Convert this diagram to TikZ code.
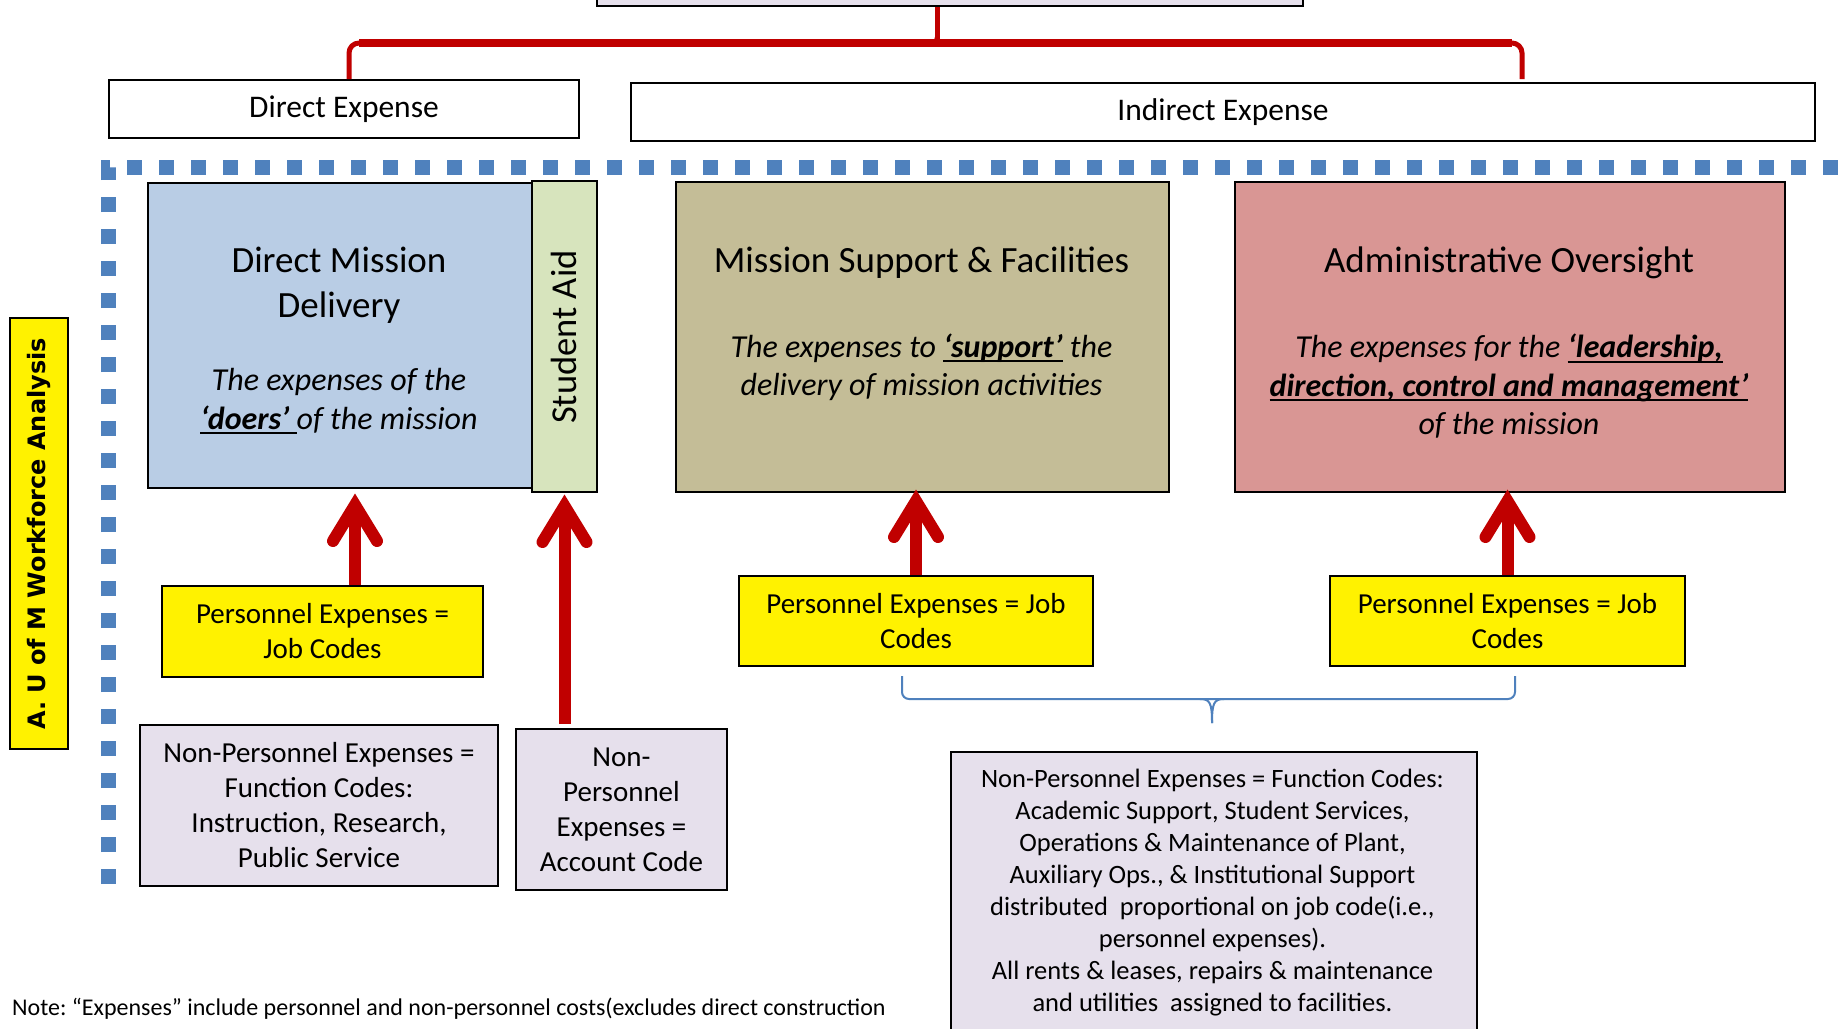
\documentclass[tikz,border=0pt]{standalone}
\usepackage{fontspec}
\setmainfont{Carlito}
\newfontfamily\vfont{DejaVu Sans}
\usetikzlibrary{calc}
\frenchspacing
\definecolor{redc}{HTML}{C00000}
\definecolor{dmdblue}{HTML}{B9CDE5}
\definecolor{sagreen}{HTML}{D7E4BD}
\definecolor{mstan}{HTML}{C4BD97}
\definecolor{adminred}{HTML}{D99694}
\definecolor{lav}{HTML}{E6E0EC}
\definecolor{dashblue}{HTML}{4F81BD}
\newsavebox\ulbox
\newcommand\myul[1]{\sbox\ulbox{#1}\rlap{\rule[-5pt]{\wd\ulbox}{2pt}}\usebox\ulbox}
\newcommand\redarrow[2]{%
  \draw[arrowline] (#1) -- ($(#2)+(0,14)$);
  \draw[arrowline, line cap=round, line join=miter] ($(#2)+(-22,47)$) -- ($(#2)+(0,11)$) -- ($(#2)+(22,47)$);}
\tikzset{
  box/.style={draw=black, line width=2pt, inner sep=0pt, anchor=north west, align=center},
  ttl/.style={font=\fontsize{37}{45}\selectfont, align=center, inner sep=0pt},
  itx/.style={font=\itshape\fontsize{32}{38.5}\selectfont, align=center, inner sep=0pt},
  ytx/.style={font=\fontsize{29}{35}\selectfont},
  hdr/.style={font=\fontsize{31.5}{37}\selectfont},
  arrowline/.style={draw=redc, line width=12pt},
  brc/.style={draw=redc, line width=5pt},
  bluebr/.style={draw=dashblue, line width=2pt},
  dashborder/.style={draw=dashblue, line width=15pt, dash pattern=on 15pt off 17pt}
}
\begin{document}
\begin{tikzpicture}[x=1pt,y=-1pt]
\useasboundingbox (0,0) rectangle (1843,1028);
\clip (0,0) rectangle (1843,1028);
\fill[white] (0,0) rectangle (1843,1028);

% top header boxes
\node[box, fill=lav, minimum width=706pt, minimum height=45pt] (top) at (596,-40) {};
\node[box, fill=white, minimum width=470pt, minimum height=58pt, hdr] (dexp) at (108,79) {Direct Expense};
\node[box, fill=white, minimum width=1184pt, minimum height=58pt, hdr] (iexp) at (630,82) {Indirect Expense};

% red brace
\coordinate (bl) at ([xshift=5pt]dexp.north);
\coordinate (br) at ([xshift=299pt,yshift=3pt]iexp.north);
\coordinate (bt) at ([xshift=-13pt]top.south);
\draw[brc, rounded corners=10pt] (bl) -- ($(bl)+(0,-36)$) -- ($(br)+(0,-36)$) -- (br);
\draw[brc, line width=8pt] ($(bl)+(10,-36)$) -- ($(br)+(-10,-36)$);
\draw[brc] (bt) -- ($(bt)+(0,36)$);
\draw[brc, line width=3pt] ($(bt)+(-9,37)$) .. controls ($(bt)+(-2,36)$) .. ($(bt)+(0,28)$);
\draw[brc, line width=3pt] ($(bt)+(9,37)$) .. controls ($(bt)+(2,36)$) .. ($(bt)+(0,28)$);

% dashed border
\draw[dashborder] (108,884) -- (108,167) -- (1860,167);

% side label
\node[box, fill=yellow, minimum width=58pt, minimum height=431pt] (ua) at (9,317) {};
\node[rotate=90, font=\vfont\bfseries\fontsize{24}{29}\selectfont, inner sep=0pt] (uat) at (39,534) {A. U of M Workforce Analysis};

% main category boxes
\node[box, fill=dmdblue, minimum width=384pt, minimum height=305pt] (dmd) at (147,182) {};
\node[box, fill=sagreen, minimum width=65pt, minimum height=311pt] (sa) at (531,180) {};
\node[box, fill=mstan, minimum width=493pt, minimum height=310pt] (ms) at (675,181) {};
\node[box, fill=adminred, minimum width=550pt, minimum height=310pt] (adm) at (1234,181) {};

\node[ttl] (dmdt) at (339,285.5) {Direct Mission\\Delivery};
\node[itx] (dmdi) at (339,401.5) {The expenses of the\\\myul{\textbf{‘doers’}\ }of the mission};
\node[rotate=90, font=\fontsize{36.5}{43}\selectfont, inner sep=0pt] (sat) at (563.5,337) {Student Aid};
\node[ttl] (mst) at (921.5,262.5) {Mission Support \& Facilities};
\node[itx] (msi) at (921.5,367.5) {The expenses to \myul{\textbf{‘support’}} the\\delivery of mission activities};
\node[ttl] (admt) at (1509,262.5) {Administrative Oversight};
\node[itx] (admi) at (1509,386.5) {The expenses for the \myul{\textbf{‘leadership,}}\\\myul{\textbf{direction, control and management’}}\\of the mission};

% personnel boxes
\node[box, fill=yellow, minimum width=321pt, minimum height=91pt, ytx] (pe1) at (161,585) {Personnel Expenses =\\Job Codes};
\node[box, fill=yellow, minimum width=354pt, minimum height=90pt, ytx] (pe2) at (738,575) {Personnel Expenses = Job\\Codes};
\node[box, fill=yellow, minimum width=355pt, minimum height=90pt, ytx] (pe3) at (1329,575) {Personnel Expenses = Job\\Codes};

% non-personnel boxes
\node[box, fill=lav, minimum width=358pt, minimum height=161pt, ytx] (np1) at (139,724) {Non-Personnel Expenses =\\Function Codes:\\Instruction, Research,\\Public Service};
\node[box, fill=lav, minimum width=211pt, minimum height=161pt, ytx] (np2) at (515,728) {Non-\\Personnel\\Expenses =\\Account Code};
\node[box, fill=lav, minimum width=526pt, minimum height=320pt] (np3) at (950,751) {};
\node[font=\fontsize{26.5}{32}\selectfont, align=center, inner sep=0pt] (np3t) at (1212.5,892.5) {Non-Personnel Expenses = Function Codes:\\Academic Support, Student Services,\\Operations \& Maintenance of Plant,\\Auxiliary Ops., \& Institutional Support\\distributed\ \ proportional on job code(i.e.,\\personnel expenses).\\All rents \& leases, repairs \& maintenance\\and utilities\ \ assigned to facilities.};

% arrows
\coordinate (a1b) at ([xshift=32.5pt]pe1.north);
\coordinate (a1t) at ($(a1b |- dmd.south)+(0,5)$);
\redarrow{a1b}{a1t}
\coordinate (a2b) at ($(sa.south |- np2.north)+(0,-4)$);
\coordinate (a2t) at ($(sa.south)+(0,2)$);
\redarrow{a2b}{a2t}
\coordinate (a3t) at ($(pe2.north |- ms.south)+(0,-3)$);
\redarrow{pe2.north}{a3t}
\coordinate (a4t) at ($(pe3.north |- adm.south)+(0,-3)$);
\redarrow{pe3.north}{a4t}

% blue brace
\coordinate (bbl) at (902,676);
\coordinate (bbr) at (1515,676);
\coordinate (bbt) at (1212,723);
\draw[bluebr, rounded corners=7pt] (bbl) -- ($(bbl)+(0,23)$) -- ($(bbr)+(0,23)$) -- (bbr);
\draw[bluebr] ($(bbt)+(-12,-24)$) .. controls ($(bbt)+(-2,-24)$) and ($(bbt)+(0,-20)$) .. (bbt);
\draw[bluebr] ($(bbt)+(12,-24)$) .. controls ($(bbt)+(2,-24)$) and ($(bbt)+(0,-20)$) .. (bbt);

% note
\node[anchor=base west, font=\fontsize{24}{29}\selectfont, inner sep=0pt] (note) at (12,1015) {Note: “Expenses” include personnel and non-personnel costs(excludes direct construction};
\end{tikzpicture}
\end{document}
